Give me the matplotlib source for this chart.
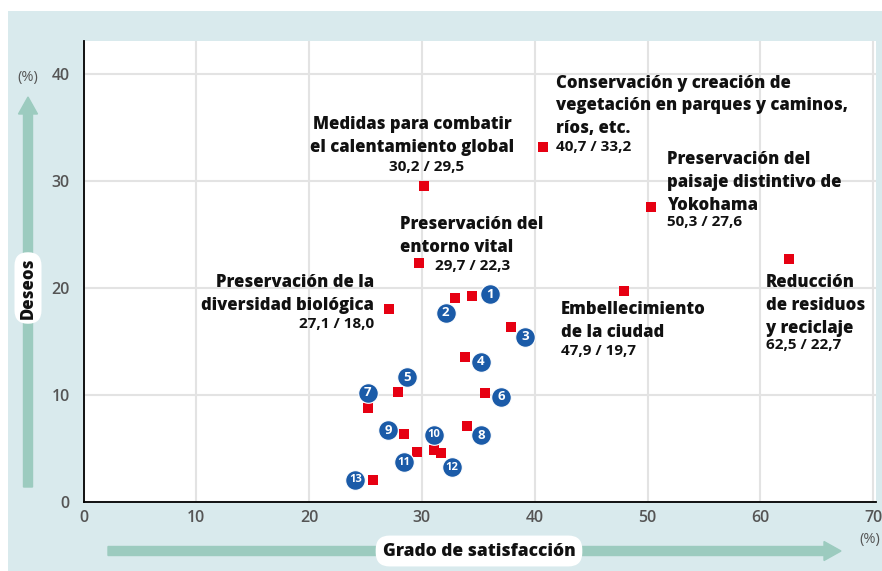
import matplotlib
matplotlib.use("Agg")
import matplotlib.pyplot as plt
import matplotlib.transforms as mtransforms
from matplotlib.patches import FancyArrow, Rectangle

plt.rcParams['font.family'] = ['Open Sans', 'DejaVu Sans']

# ---- data ----
lab_names = [
    "Medidas para combatir\nel calentamiento global",
    "Conservación y creación de\nvegetación en parques y caminos,\nríos, etc.",
    "Preservación del\npaisaje distintivo de\nYokohama",
    "Reducción\nde residuos\ny reciclaje",
    "Preservación del\nentorno vital",
    "Preservación de la\ndiversidad biológica",
    "Embellecimiento\nde la ciudad",
]
lab_x = [30.2, 40.7, 50.3, 62.5, 29.7, 27.1, 47.9]
lab_y = [29.5, 33.2, 27.6, 22.7, 22.3, 18.0, 19.7]

num_ids = [1, 2, 3, 4, 5, 6, 7, 8, 9, 10, 11, 12, 13]
num_x = [34.4, 32.9, 37.9, 33.8, 27.9, 35.6, 25.2, 34.0, 28.4, 31.05, 29.55, 31.7, 25.7]
num_y = [19.25, 19.1, 16.4, 13.6, 10.25, 10.2, 8.8, 7.1, 6.35, 4.9, 4.67, 4.55, 2.1]

x_ticks = [0, 10, 20, 30, 40, 50, 60, 70]
y_ticks = [0, 10, 20, 30, 40]
x_label = "Grado de satisfacción"
y_label = "Deseos"

# ---- layout (pixel offsets) ----
title_off = [(-12, 50.5, 'center'), (13, 41, 'left'), (16, 24, 'left'), (-23, -46.5, 'left'),
             (-19, 27.5, 'left'), (-15, 15.5, 'right'), (-63, -30, 'left')]
value_off = [(2, 19, 'center'), (13, 0, 'left'), (16, -15, 'left'), (-23, -86, 'left'),
             (16, -3, 'left'), (-15, -15, 'right'), (-63, -60, 'left')]
circ_off = [(18, 2), (-9, -15), (14, -10), (16, -5), (9, 15), (16, -4), (0, 15),
            (14, -9), (-16, 4), (0, 15), (-13, -10), (11, -14), (-18, 0)]

W, H = 882, 571
fig = plt.figure(figsize=(W / 100, H / 100), dpi=100, facecolor='white')
bg = '#d9eaed'
fig.patches.append(Rectangle((8 / W, 0), 1 - 8 / W, (H - 11) / H, transform=fig.transFigure,
                             facecolor=bg, edgecolor='none', zorder=-10))

ax = fig.add_axes([83.5 / W, 1 - 502 / H, (876 - 83.5) / W, (502 - 41) / H])
ax.set_zorder(1)
ax.set_facecolor('white')
ax.set_xlim(0, 70.25)
ax.set_ylim(0, 43.1)
ax.set_xticks(x_ticks)
ax.set_yticks(y_ticks)
ax.set_xticklabels([str(t) for t in x_ticks])
ax.set_yticklabels([str(t) for t in y_ticks])
ax.grid(True, color='#e3e3e3', linewidth=1.5, zorder=0)
ax.set_axisbelow(True)
for s in ['top', 'right']:
    ax.spines[s].set_visible(False)
for s in ['left', 'bottom']:
    ax.spines[s].set_color('black')
    ax.spines[s].set_linewidth(1.3)
ax.tick_params(length=0, labelsize=11.5, labelcolor='#555555')
ax.tick_params(axis='y', pad=10)
ax.tick_params(axis='x', pad=6)
for lbl in ax.get_xticklabels() + ax.get_yticklabels():
    lbl.set_fontweight('semibold')

red = '#e60012'
blue = '#1b5ba8'

ax.scatter(lab_x, lab_y, marker='s', s=58, color=red, zorder=4, linewidths=0)
ax.scatter(num_x, num_y, marker='s', s=58, color=red, zorder=4, linewidths=0)

for name, x, y, to, vo in zip(lab_names, lab_x, lab_y, title_off, value_off):
    ax.annotate(name, (x, y), xytext=(to[0], to[1]), textcoords='offset pixels',
                ha=to[2], va='center', fontsize=12, fontweight='heavy', color='#111111',
                linespacing=1.45, zorder=5)
    val = f"{x:.1f}".replace('.', ',') + " / " + f"{y:.1f}".replace('.', ',')
    ax.annotate(val, (x, y), xytext=(vo[0], vo[1]), textcoords='offset pixels',
                ha=vo[2], va='center', fontsize=11, fontweight='bold', color='#111111',
                zorder=5)

for n, x, y, (dx, dy) in zip(num_ids, num_x, num_y, circ_off):
    tr = mtransforms.offset_copy(ax.transData, fig=fig, x=dx, y=dy, units='dots')
    ax.scatter([x], [y], s=200, color=blue, edgecolors='white', linewidths=0.8,
               transform=tr, zorder=6)
    ax.text(x, y, str(n), transform=tr, ha='center', va='center', color='white',
            fontsize=9.5 if n < 10 else 8, fontweight='bold', zorder=7)

# ---- arrows and axis labels (pixel coords) ----
idt = mtransforms.IdentityTransform()
arrow_col = '#9ccbbf'
fig.patches.append(FancyArrow(28, H - 487, 0, 487 - 97, width=9, head_width=19,
                              head_length=17, length_includes_head=True,
                              color=arrow_col, transform=idt, zorder=1))
fig.patches.append(FancyArrow(108, H - 551, 841 - 108, 0, width=9, head_width=19,
                              head_length=17, length_includes_head=True,
                              color=arrow_col, transform=idt, zorder=1))

fig.text(479 / W, 1 - 551 / H, x_label, ha='center', va='center', fontsize=12.5,
         fontweight='heavy', color='#111111',
         bbox=dict(boxstyle='round,pad=0.4,rounding_size=0.8', fc='white', ec='none'))
fig.text(28 / W, 1 - 288 / H, y_label, ha='center', va='center', fontsize=12,
         fontweight='heavy', color='#111111', rotation=90,
         bbox=dict(boxstyle='round,pad=0.3,rounding_size=0.8', fc='white', ec='none'))

fig.text(28 / W, 1 - 77 / H, "(%)", ha='center', va='center', fontsize=10.5,
         color='#555555')
fig.text(870 / W, 1 - 540 / H, "(%)", ha='center', va='center', fontsize=10.5,
         color='#555555')

fig.savefig('out.png', dpi=100, facecolor='white')
